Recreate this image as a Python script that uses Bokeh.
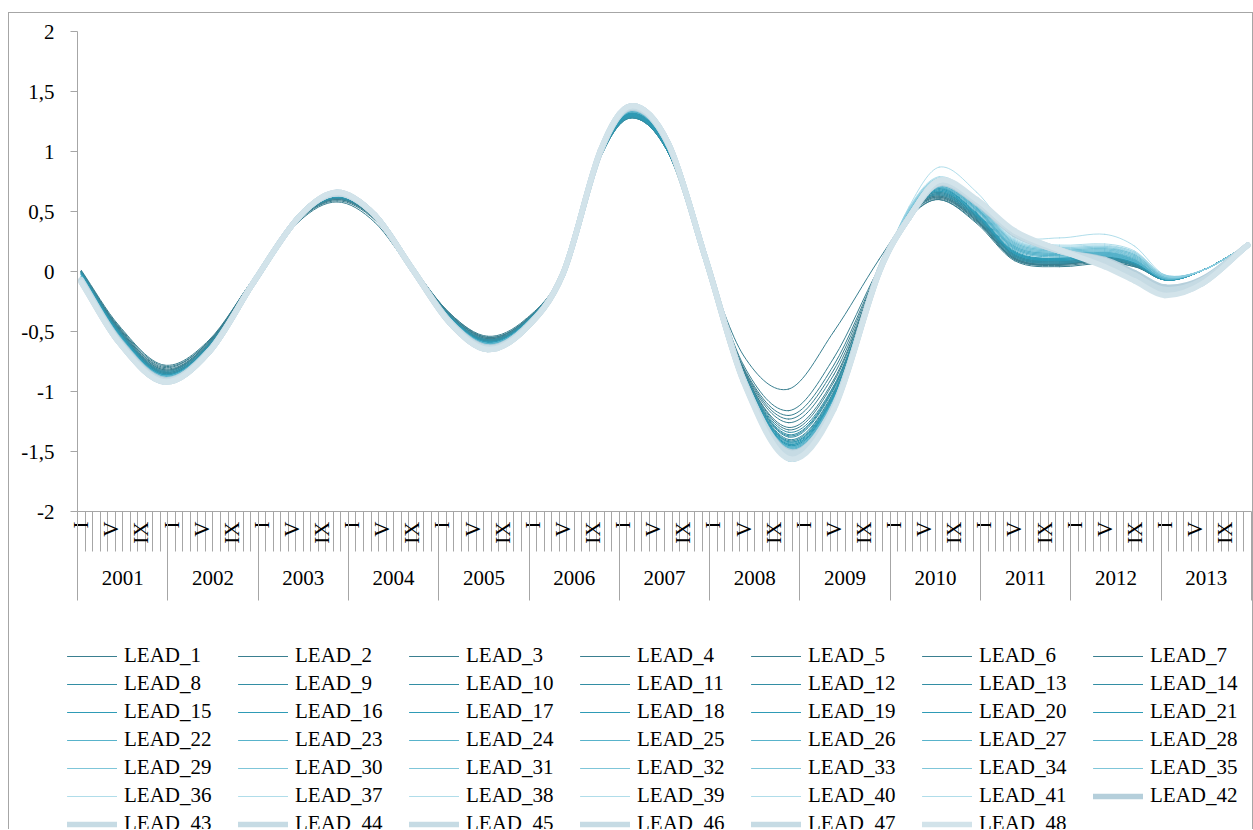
import math
from bokeh.plotting import figure
from bokeh.layouts import column
from bokeh.models import (Range1d, LinearAxis, FixedTicker, CustomJSTickFormatter,
                          ColumnDataSource, Legend, LegendItem)
from bokeh.embed import file_html
from bokeh.resources import INLINE

# ---- data -------------------------------------------------------------
years = ["2001", "2002", "2003", "2004", "2005", "2006", "2007",
         "2008", "2009", "2010", "2011", "2012", "2013"]
month_marks = ["I", "V", "IX"]          # labelled months inside each year
month_mark_index = [0, 4, 8]            # Jan, May, Sep
y_ticks = [-2, -1.5, -1, -0.5, 0, 0.5, 1, 1.5, 2]

# months since Jan 2001 at which every series is read
sample_month = [0, 5, 11, 17, 23, 29, 34, 39, 44, 49, 54, 59, 64, 69, 73, 78,
                83, 88, 94, 100, 106, 110, 114, 119, 124, 130, 136, 140, 144, 149, 155]

LEAD_1 = [0.01, -0.45, -0.78, -0.57, -0.05, 0.42, 0.58, 0.41, 0.00, -0.38, -0.62, -0.50, -0.04, 1.00, 1.34, 0.99, 0.08, -0.70, -0.98, -0.50, 0.10, 0.45, 0.60, 0.40, 0.09, 0.04, 0.07, 0.04, -0.05, 0.01, 0.22]
LEAD_2 = [0.00, -0.46, -0.79, -0.58, -0.05, 0.43, 0.59, 0.43, 0.03, -0.35, -0.55, -0.41, -0.01, 0.97, 1.31, 1.00, 0.10, -0.78, -1.16, -0.72, 0.03, 0.45, 0.60, 0.41, 0.10, 0.05, 0.08, 0.04, -0.06, 0.01, 0.22]
LEAD_3 = [0.00, -0.47, -0.80, -0.58, -0.05, 0.43, 0.60, 0.44, 0.04, -0.35, -0.54, -0.40, 0.00, 0.97, 1.30, 1.00, 0.10, -0.80, -1.20, -0.78, 0.02, 0.46, 0.61, 0.42, 0.10, 0.06, 0.09, 0.05, -0.06, 0.01, 0.22]
LEAD_4 = [0.00, -0.47, -0.81, -0.59, -0.05, 0.44, 0.60, 0.44, 0.04, -0.36, -0.55, -0.41, 0.00, 0.98, 1.31, 1.01, 0.10, -0.81, -1.23, -0.82, 0.01, 0.46, 0.62, 0.42, 0.11, 0.06, 0.09, 0.05, -0.06, 0.01, 0.22]
LEAD_5 = [0.00, -0.48, -0.82, -0.59, -0.05, 0.44, 0.61, 0.44, 0.04, -0.36, -0.56, -0.41, 0.00, 0.98, 1.32, 1.01, 0.10, -0.82, -1.26, -0.86, 0.00, 0.47, 0.62, 0.43, 0.11, 0.06, 0.10, 0.05, -0.07, 0.01, 0.22]
LEAD_6 = [0.00, -0.48, -0.82, -0.60, -0.05, 0.44, 0.61, 0.45, 0.04, -0.36, -0.56, -0.42, 0.00, 0.98, 1.32, 1.02, 0.10, -0.83, -1.30, -0.90, 0.00, 0.47, 0.63, 0.43, 0.11, 0.06, 0.10, 0.05, -0.07, 0.01, 0.22]
LEAD_7 = [0.00, -0.49, -0.83, -0.60, -0.06, 0.44, 0.61, 0.45, 0.04, -0.37, -0.57, -0.42, 0.00, 0.98, 1.33, 1.02, 0.10, -0.83, -1.32, -0.92, 0.00, 0.48, 0.63, 0.44, 0.12, 0.07, 0.10, 0.05, -0.07, 0.01, 0.22]
LEAD_8 = [0.00, -0.49, -0.83, -0.60, -0.06, 0.44, 0.61, 0.45, 0.04, -0.37, -0.57, -0.42, 0.00, 0.96, 1.30, 1.00, 0.10, -0.84, -1.34, -0.95, -0.01, 0.48, 0.64, 0.44, 0.12, 0.07, 0.10, 0.05, -0.07, 0.01, 0.22]
LEAD_9 = [0.00, -0.49, -0.84, -0.61, -0.06, 0.44, 0.61, 0.45, 0.04, -0.37, -0.57, -0.42, 0.00, 0.96, 1.29, 0.99, 0.10, -0.84, -1.36, -0.96, -0.01, 0.48, 0.64, 0.45, 0.13, 0.07, 0.11, 0.06, -0.07, 0.01, 0.22]
LEAD_10 = [-0.01, -0.50, -0.84, -0.61, -0.06, 0.45, 0.62, 0.45, 0.04, -0.37, -0.57, -0.42, 0.00, 0.96, 1.29, 0.99, 0.10, -0.85, -1.37, -0.97, -0.01, 0.48, 0.65, 0.45, 0.13, 0.08, 0.11, 0.06, -0.07, 0.01, 0.22]
LEAD_11 = [-0.01, -0.50, -0.84, -0.61, -0.06, 0.45, 0.62, 0.45, 0.04, -0.38, -0.58, -0.43, 0.00, 0.95, 1.28, 0.99, 0.10, -0.85, -1.38, -0.98, -0.01, 0.48, 0.65, 0.45, 0.13, 0.08, 0.11, 0.06, -0.07, 0.01, 0.22]
LEAD_12 = [-0.01, -0.50, -0.85, -0.62, -0.06, 0.45, 0.62, 0.46, 0.04, -0.38, -0.58, -0.43, 0.00, 0.95, 1.28, 0.99, 0.10, -0.85, -1.40, -1.00, -0.01, 0.49, 0.66, 0.46, 0.14, 0.08, 0.12, 0.06, -0.07, 0.01, 0.22]
LEAD_13 = [-0.01, -0.50, -0.85, -0.62, -0.06, 0.45, 0.62, 0.46, 0.04, -0.38, -0.58, -0.43, 0.00, 0.95, 1.28, 0.99, 0.10, -0.86, -1.41, -1.01, -0.02, 0.49, 0.66, 0.46, 0.14, 0.09, 0.12, 0.07, -0.07, 0.01, 0.22]
LEAD_14 = [-0.01, -0.51, -0.85, -0.62, -0.06, 0.45, 0.62, 0.46, 0.04, -0.38, -0.58, -0.43, 0.00, 0.96, 1.29, 1.00, 0.10, -0.86, -1.42, -1.02, -0.02, 0.49, 0.67, 0.46, 0.14, 0.09, 0.12, 0.07, -0.07, 0.01, 0.22]
LEAD_15 = [-0.02, -0.51, -0.86, -0.62, -0.06, 0.45, 0.62, 0.46, 0.04, -0.38, -0.59, -0.43, 0.00, 0.96, 1.29, 1.00, 0.10, -0.86, -1.42, -1.03, -0.02, 0.49, 0.67, 0.47, 0.15, 0.09, 0.13, 0.07, -0.07, 0.01, 0.22]
LEAD_16 = [-0.02, -0.51, -0.86, -0.63, -0.06, 0.45, 0.63, 0.46, 0.04, -0.38, -0.59, -0.44, 0.00, 0.97, 1.30, 1.00, 0.10, -0.86, -1.43, -1.03, -0.02, 0.49, 0.68, 0.47, 0.15, 0.10, 0.13, 0.07, -0.07, 0.01, 0.22]
LEAD_17 = [-0.02, -0.52, -0.86, -0.63, -0.06, 0.45, 0.63, 0.46, 0.04, -0.39, -0.59, -0.44, 0.00, 0.97, 1.30, 1.01, 0.10, -0.87, -1.44, -1.04, -0.02, 0.49, 0.68, 0.47, 0.15, 0.10, 0.14, 0.08, -0.07, 0.01, 0.22]
LEAD_18 = [-0.02, -0.52, -0.86, -0.63, -0.06, 0.45, 0.63, 0.46, 0.04, -0.39, -0.59, -0.44, 0.00, 0.97, 1.31, 1.01, 0.10, -0.87, -1.44, -1.04, -0.02, 0.50, 0.69, 0.48, 0.16, 0.10, 0.14, 0.08, -0.07, 0.01, 0.22]
LEAD_19 = [-0.03, -0.52, -0.87, -0.63, -0.07, 0.45, 0.63, 0.46, 0.04, -0.39, -0.60, -0.44, 0.00, 0.98, 1.31, 1.02, 0.10, -0.87, -1.45, -1.05, -0.02, 0.50, 0.69, 0.48, 0.16, 0.11, 0.15, 0.08, -0.07, 0.01, 0.22]
LEAD_20 = [-0.03, -0.53, -0.87, -0.64, -0.07, 0.45, 0.63, 0.46, 0.04, -0.39, -0.60, -0.44, 0.00, 0.98, 1.32, 1.02, 0.10, -0.87, -1.45, -1.05, -0.02, 0.50, 0.70, 0.48, 0.16, 0.11, 0.15, 0.09, -0.07, 0.01, 0.22]
LEAD_21 = [-0.03, -0.53, -0.87, -0.64, -0.07, 0.45, 0.63, 0.46, 0.04, -0.39, -0.60, -0.45, 0.00, 0.98, 1.32, 1.02, 0.10, -0.88, -1.46, -1.06, -0.02, 0.50, 0.70, 0.49, 0.17, 0.11, 0.16, 0.09, -0.07, 0.01, 0.22]
LEAD_22 = [-0.03, -0.53, -0.87, -0.63, -0.07, 0.45, 0.63, 0.46, 0.03, -0.39, -0.60, -0.44, -0.01, 0.98, 1.33, 1.03, 0.10, -0.88, -1.46, -1.06, -0.03, 0.47, 0.70, 0.50, 0.18, 0.12, 0.13, 0.08, -0.06, 0.01, 0.22]
LEAD_23 = [-0.03, -0.53, -0.87, -0.63, -0.07, 0.45, 0.63, 0.46, 0.03, -0.39, -0.60, -0.44, -0.01, 0.98, 1.33, 1.03, 0.10, -0.88, -1.46, -1.07, -0.03, 0.47, 0.70, 0.51, 0.19, 0.13, 0.14, 0.08, -0.06, 0.01, 0.22]
LEAD_24 = [-0.03, -0.54, -0.87, -0.63, -0.07, 0.45, 0.63, 0.46, 0.03, -0.39, -0.60, -0.44, -0.01, 0.98, 1.33, 1.03, 0.10, -0.88, -1.47, -1.07, -0.03, 0.48, 0.71, 0.51, 0.19, 0.13, 0.14, 0.09, -0.06, 0.01, 0.22]
LEAD_25 = [-0.04, -0.54, -0.88, -0.64, -0.07, 0.45, 0.63, 0.46, 0.03, -0.40, -0.60, -0.44, -0.01, 0.98, 1.34, 1.03, 0.10, -0.89, -1.47, -1.08, -0.03, 0.48, 0.71, 0.52, 0.20, 0.14, 0.15, 0.09, -0.06, 0.01, 0.22]
LEAD_26 = [-0.04, -0.54, -0.88, -0.64, -0.07, 0.45, 0.64, 0.46, 0.03, -0.40, -0.61, -0.45, -0.01, 0.99, 1.34, 1.04, 0.10, -0.89, -1.48, -1.08, -0.03, 0.48, 0.72, 0.52, 0.20, 0.14, 0.15, 0.10, -0.06, 0.01, 0.22]
LEAD_27 = [-0.04, -0.54, -0.88, -0.64, -0.07, 0.45, 0.64, 0.46, 0.03, -0.40, -0.61, -0.45, -0.01, 0.99, 1.34, 1.04, 0.10, -0.89, -1.48, -1.08, -0.03, 0.48, 0.72, 0.53, 0.21, 0.15, 0.16, 0.10, -0.06, 0.01, 0.22]
LEAD_28 = [-0.04, -0.55, -0.88, -0.64, -0.07, 0.45, 0.64, 0.46, 0.03, -0.40, -0.61, -0.45, -0.01, 0.99, 1.34, 1.04, 0.10, -0.89, -1.49, -1.09, -0.03, 0.49, 0.73, 0.53, 0.21, 0.15, 0.16, 0.11, -0.05, 0.01, 0.22]
LEAD_29 = [-0.04, -0.55, -0.88, -0.64, -0.07, 0.45, 0.64, 0.46, 0.03, -0.40, -0.61, -0.45, -0.01, 0.99, 1.34, 1.04, 0.10, -0.89, -1.49, -1.09, -0.03, 0.49, 0.73, 0.54, 0.22, 0.16, 0.17, 0.11, -0.05, 0.01, 0.22]
LEAD_30 = [-0.05, -0.55, -0.89, -0.65, -0.07, 0.46, 0.64, 0.46, 0.03, -0.41, -0.61, -0.45, -0.01, 0.99, 1.35, 1.05, 0.10, -0.90, -1.50, -1.10, -0.04, 0.49, 0.74, 0.54, 0.22, 0.16, 0.17, 0.12, -0.05, 0.01, 0.22]
LEAD_31 = [-0.05, -0.55, -0.89, -0.65, -0.07, 0.46, 0.64, 0.46, 0.03, -0.41, -0.62, -0.46, -0.01, 0.99, 1.35, 1.05, 0.10, -0.90, -1.50, -1.10, -0.04, 0.50, 0.74, 0.55, 0.23, 0.17, 0.18, 0.12, -0.05, 0.01, 0.22]
LEAD_32 = [-0.05, -0.56, -0.89, -0.65, -0.07, 0.46, 0.64, 0.47, 0.03, -0.41, -0.62, -0.46, -0.01, 0.99, 1.35, 1.05, 0.10, -0.90, -1.51, -1.10, -0.04, 0.50, 0.75, 0.55, 0.23, 0.17, 0.18, 0.13, -0.05, 0.01, 0.22]
LEAD_33 = [-0.05, -0.56, -0.89, -0.65, -0.07, 0.46, 0.64, 0.47, 0.03, -0.41, -0.62, -0.46, -0.01, 0.99, 1.35, 1.05, 0.10, -0.90, -1.51, -1.11, -0.04, 0.50, 0.75, 0.56, 0.24, 0.18, 0.19, 0.13, -0.05, 0.01, 0.22]
LEAD_34 = [-0.06, -0.56, -0.90, -0.65, -0.08, 0.46, 0.65, 0.47, 0.03, -0.41, -0.62, -0.46, -0.01, 1.00, 1.36, 1.05, 0.10, -0.90, -1.52, -1.11, -0.04, 0.51, 0.76, 0.56, 0.24, 0.18, 0.19, 0.14, -0.04, 0.01, 0.22]
LEAD_35 = [-0.06, -0.57, -0.90, -0.66, -0.08, 0.46, 0.65, 0.47, 0.02, -0.42, -0.63, -0.46, -0.02, 1.00, 1.36, 1.06, 0.10, -0.91, -1.53, -1.12, -0.04, 0.51, 0.76, 0.57, 0.25, 0.19, 0.20, 0.14, -0.04, 0.01, 0.22]
LEAD_36 = [-0.06, -0.57, -0.90, -0.66, -0.08, 0.46, 0.65, 0.47, 0.02, -0.42, -0.63, -0.47, -0.02, 1.00, 1.36, 1.06, 0.10, -0.91, -1.54, -1.12, -0.04, 0.51, 0.77, 0.57, 0.25, 0.19, 0.20, 0.15, -0.04, 0.01, 0.22]
LEAD_37 = [-0.07, -0.57, -0.91, -0.66, -0.08, 0.46, 0.65, 0.47, 0.02, -0.42, -0.63, -0.47, -0.02, 1.00, 1.36, 1.06, 0.10, -0.91, -1.55, -1.13, -0.04, 0.52, 0.77, 0.58, 0.26, 0.20, 0.21, 0.15, -0.04, 0.01, 0.22]
LEAD_38 = [-0.07, -0.58, -0.91, -0.66, -0.08, 0.46, 0.65, 0.47, 0.02, -0.42, -0.64, -0.47, -0.02, 1.00, 1.37, 1.06, 0.10, -0.91, -1.56, -1.13, -0.04, 0.52, 0.78, 0.58, 0.26, 0.20, 0.21, 0.16, -0.04, 0.01, 0.22]
LEAD_39 = [-0.07, -0.58, -0.91, -0.66, -0.08, 0.46, 0.65, 0.47, 0.02, -0.42, -0.64, -0.47, -0.02, 1.00, 1.37, 1.06, 0.10, -0.92, -1.57, -1.14, -0.04, 0.52, 0.78, 0.59, 0.27, 0.21, 0.22, 0.16, -0.03, 0.01, 0.22]
LEAD_40 = [-0.08, -0.58, -0.91, -0.66, -0.08, 0.46, 0.65, 0.47, 0.02, -0.42, -0.64, -0.47, -0.02, 1.00, 1.37, 1.06, 0.10, -0.92, -1.58, -1.14, -0.04, 0.53, 0.79, 0.60, 0.28, 0.22, 0.23, 0.17, -0.03, 0.01, 0.22]
LEAD_41 = [-0.08, -0.58, -0.92, -0.67, -0.08, 0.46, 0.66, 0.47, 0.02, -0.43, -0.65, -0.48, -0.02, 1.01, 1.38, 1.07, 0.10, -0.92, -1.58, -1.15, -0.04, 0.54, 0.87, 0.66, 0.31, 0.28, 0.31, 0.21, -0.03, 0.01, 0.22]
LEAD_42 = [-0.07, -0.57, -0.90, -0.66, -0.08, 0.46, 0.65, 0.47, 0.02, -0.42, -0.63, -0.47, -0.02, 1.00, 1.36, 1.06, 0.10, -0.90, -1.50, -1.12, 0.00, 0.45, 0.73, 0.57, 0.31, 0.17, 0.10, -0.01, -0.13, -0.06, 0.22]
LEAD_43 = [-0.07, -0.58, -0.91, -0.66, -0.08, 0.46, 0.65, 0.47, 0.02, -0.42, -0.64, -0.47, -0.02, 1.00, 1.37, 1.06, 0.10, -0.90, -1.51, -1.12, 0.00, 0.45, 0.74, 0.58, 0.32, 0.17, 0.09, -0.03, -0.15, -0.07, 0.22]
LEAD_44 = [-0.08, -0.58, -0.91, -0.66, -0.08, 0.46, 0.65, 0.47, 0.02, -0.42, -0.64, -0.47, -0.02, 1.00, 1.37, 1.06, 0.10, -0.90, -1.52, -1.13, 0.00, 0.45, 0.74, 0.58, 0.32, 0.17, 0.08, -0.04, -0.16, -0.08, 0.22]
LEAD_45 = [-0.08, -0.58, -0.91, -0.67, -0.08, 0.46, 0.65, 0.47, 0.02, -0.43, -0.64, -0.48, -0.02, 1.00, 1.37, 1.07, 0.10, -0.91, -1.53, -1.13, 0.00, 0.45, 0.75, 0.59, 0.33, 0.18, 0.07, -0.05, -0.17, -0.08, 0.22]
LEAD_46 = [-0.08, -0.59, -0.92, -0.67, -0.08, 0.46, 0.66, 0.47, 0.02, -0.43, -0.65, -0.48, -0.02, 1.01, 1.38, 1.07, 0.10, -0.91, -1.54, -1.14, -0.01, 0.45, 0.75, 0.59, 0.33, 0.18, 0.06, -0.06, -0.18, -0.09, 0.22]
LEAD_47 = [-0.09, -0.59, -0.92, -0.67, -0.08, 0.46, 0.66, 0.47, 0.02, -0.43, -0.65, -0.48, -0.02, 1.01, 1.38, 1.07, 0.10, -0.91, -1.55, -1.14, -0.01, 0.45, 0.75, 0.59, 0.33, 0.18, 0.05, -0.07, -0.19, -0.10, 0.22]
LEAD_48 = [-0.09, -0.59, -0.92, -0.67, -0.08, 0.46, 0.66, 0.47, 0.02, -0.43, -0.65, -0.48, -0.02, 1.01, 1.38, 1.07, 0.10, -0.92, -1.56, -1.15, -0.01, 0.45, 0.76, 0.60, 0.34, 0.18, 0.04, -0.08, -0.20, -0.10, 0.22]

series_values = [LEAD_1, LEAD_2, LEAD_3, LEAD_4, LEAD_5, LEAD_6, LEAD_7, LEAD_8,
                 LEAD_9, LEAD_10, LEAD_11, LEAD_12, LEAD_13, LEAD_14, LEAD_15, LEAD_16,
                 LEAD_17, LEAD_18, LEAD_19, LEAD_20, LEAD_21, LEAD_22, LEAD_23, LEAD_24,
                 LEAD_25, LEAD_26, LEAD_27, LEAD_28, LEAD_29, LEAD_30, LEAD_31, LEAD_32,
                 LEAD_33, LEAD_34, LEAD_35, LEAD_36, LEAD_37, LEAD_38, LEAD_39, LEAD_40,
                 LEAD_41, LEAD_42, LEAD_43, LEAD_44, LEAD_45, LEAD_46, LEAD_47, LEAD_48]
series_names = ["LEAD_%d" % (i + 1) for i in range(len(series_values))]


# ---- styles -----------------------------------------------------------
def series_style(k):
    """Colour and width for series number k (1-based), dark teal to pale blue."""
    if k <= 7:
        return "#3a7f90", 1.0
    if k <= 14:
        return "#338ea4", 1.0
    if k <= 21:
        return "#2e9bb6", 1.0
    if k <= 28:
        return "#58b3cb", 1.0
    if k <= 35:
        return "#70bfd5", 0.9
    if k <= 41:
        return "#8ecfe1", 0.7
    if k == 42:
        return "#b5cfdb", 5.5
    if k <= 47:
        return "#c6dbe4", 5.5
    return "#d2e3ea", 5.5


FONT = "Liberation Serif"
GRAY = "#a6a6a6"
EDGE = "1px solid #a6a6a6"


def smooth_segments(xs, ys):
    """Cubic Bezier pieces through the points, as a smoothed line."""
    n = len(xs)
    slope = []
    for i in range(n):
        a, b = max(i - 1, 0), min(i + 1, n - 1)
        slope.append((ys[b] - ys[a]) / (xs[b] - xs[a]))
    seg = dict(x0=[], y0=[], x1=[], y1=[], cx0=[], cy0=[], cx1=[], cy1=[])
    for i in range(n - 1):
        h = xs[i + 1] - xs[i]
        seg["x0"].append(xs[i]); seg["y0"].append(ys[i])
        seg["x1"].append(xs[i + 1]); seg["y1"].append(ys[i + 1])
        seg["cx0"].append(xs[i] + h / 3); seg["cy0"].append(ys[i] + slope[i] * h / 3)
        seg["cx1"].append(xs[i + 1] - h / 3); seg["cy1"].append(ys[i + 1] - slope[i + 1] * h / 3)
    return seg


n_months = 12 * len(years)

# ---- chart ------------------------------------------------------------
p = figure(width=1243, height=617,
           x_range=Range1d(0, n_months), y_range=Range1d(y_ticks[0], y_ticks[-1]),
           output_backend="svg", toolbar_location=None,
           min_border_left=68, min_border_right=1, min_border_top=18, min_border_bottom=119)
p.outline_line_color = None
p.grid.visible = False
p.background_fill_color = "white"
p.border_fill_color = "white"

# y axis
yax = p.yaxis[0]
yax.ticker = FixedTicker(ticks=y_ticks, minor_ticks=[])
yax.formatter = CustomJSTickFormatter(code="return String(tick).replace('.', ',')")
yax.axis_line_color = GRAY
yax.major_tick_line_color = GRAY
yax.major_tick_out = 7
yax.major_tick_in = 0
yax.minor_tick_line_color = None
yax.major_label_standoff = 16
yax.major_label_text_font = FONT
yax.major_label_text_font_size = "21px"
yax.major_label_text_color = "black"

# x axis: month marks with a tick at every month boundary
month_pos = []
month_overrides = {}
for yi in range(len(years)):
    for name, mi in zip(month_marks, month_mark_index):
        pos = 12 * yi + mi + 0.5
        month_pos.append(pos)
        month_overrides[pos] = name
xax = p.xaxis[0]
xax.ticker = FixedTicker(ticks=month_pos, minor_ticks=list(range(n_months + 1)))
xax.major_label_overrides = month_overrides
xax.major_label_orientation = math.pi / 2
xax.axis_line_color = GRAY
xax.major_tick_out = 0
xax.major_tick_in = 0
xax.minor_tick_line_color = GRAY
xax.minor_tick_out = 40
xax.minor_tick_in = 0
xax.major_label_standoff = -30
xax.major_label_text_font = FONT
xax.major_label_text_font_size = "21px"
xax.major_label_text_color = "black"

# second x axis: years, separated by long ticks
year_pos = [12 * yi + 6 for yi in range(len(years))]
year_axis = LinearAxis(
    ticker=FixedTicker(ticks=year_pos, minor_ticks=[12 * yi for yi in range(len(years) + 1)]),
    major_label_overrides={pos: name for pos, name in zip(year_pos, years)},
    axis_line_color=None, major_tick_line_color=None,
    major_tick_out=0, major_tick_in=0,
    minor_tick_line_color=GRAY, minor_tick_in=25, minor_tick_out=54,
    major_label_standoff=-30, major_label_text_font=FONT,
    major_label_text_font_size="21px", major_label_text_color="black")
p.add_layout(year_axis, "below")

# ---- legend strip underneath -----------------------------------------
# the key lines live in a strip whose ranges lie off the data, so only the legend shows;
# the strip is nudged left so the first key line starts ahead of the value axis
lg = figure(width=1243, height=199, styles={"margin-left": "-10px"},
            x_range=Range1d(-20, -19), y_range=Range1d(-20, -19),
            output_backend="svg", toolbar_location=None,
            x_axis_location=None, y_axis_location=None,
            min_border_left=0, min_border_right=0, min_border_top=0, min_border_bottom=0)
lg.outline_line_color = None
lg.grid.visible = False
lg.background_fill_alpha = 0
lg.border_fill_alpha = 0

items = []
for k, (name, vals) in enumerate(zip(series_names, series_values), start=1):
    color, width = series_style(k)
    xs = [m + 0.5 for m in sample_month]
    src = ColumnDataSource(smooth_segments(xs, vals))
    p.bezier(x0="x0", y0="y0", x1="x1", y1="y1", cx0="cx0", cy0="cy0",
             cx1="cx1", cy1="cy1", source=src, line_color=color,
             line_width=width, line_cap="round")
    key = lg.line(x=xs, y=vals, line_color=color, line_width=width, line_cap="round")
    items.append(LegendItem(label=name, renderers=[key]))

legend = Legend(items=items, orientation="horizontal", ncols=7,
                location=(0, -7), glyph_width=50, glyph_height=20,
                label_standoff=7, label_width=111, label_height=24, spacing=3,
                padding=0, margin=0, border_line_color=None, background_fill_alpha=0,
                label_text_font=FONT, label_text_font_size="21px",
                label_text_color="black")
lg.add_layout(legend)

page = column(p, lg, margin=(12, 0, 0, 8),
              styles={"border-top": EDGE, "border-left": EDGE, "border-right": EDGE})

open("out.html", "w").write(file_html(page, INLINE))
